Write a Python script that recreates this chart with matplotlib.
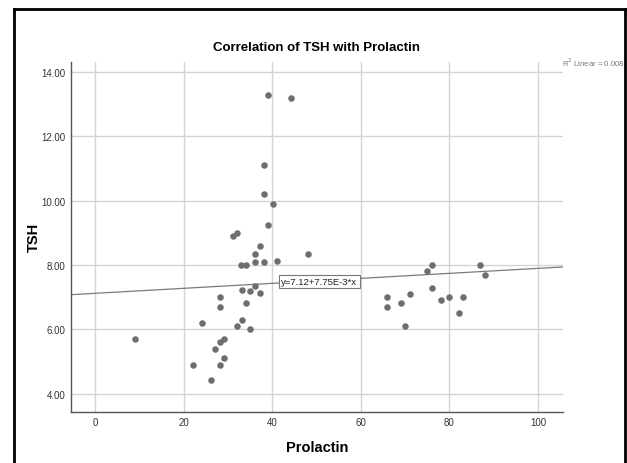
import numpy as np
import matplotlib.pyplot as plt
from matplotlib.lines import Line2D

# Prolactin (x) and TSH (y) values
prolactin = [39.0, 44.1, 38.1, 38.1, 40.1, 39.0, 31.1, 32.1, 37.1, 36.1,
             48.1, 33.0, 34.1, 36.1, 38.1, 41.1,
             33.1, 35.0, 36.1, 37.1, 28.1, 28.1, 34.1, 24.0, 33.1, 32.1,
             35.0, 29.1, 28.1, 27.1, 29.1, 22.0, 28.1, 26.1, 9.0,
             76.0, 75.0, 87.0, 88.0, 66.0, 66.0, 69.0, 71.1, 76.0, 78.1,
             80.0, 83.0, 82.1, 70.0]
tsh = [13.30, 13.20, 11.10, 10.20, 9.89, 9.23, 8.90, 9.00, 8.60, 8.34,
       8.33, 8.00, 8.00, 8.10, 8.10, 8.12,
       7.22, 7.20, 7.35, 7.12, 7.00, 6.70, 6.81, 6.21, 6.30, 6.11,
       6.00, 5.70, 5.61, 5.40, 5.10, 4.90, 4.90, 4.41, 5.70,
       8.00, 7.80, 8.00, 7.70, 7.00, 6.70, 6.81, 7.10, 7.30, 6.90,
       7.00, 7.00, 6.51, 6.10]

intercept = 7.12
slope = 7.75e-3
x_ticks = [0, 20, 40, 60, 80, 100]
y_ticks = [4, 6, 8, 10, 12, 14]

plt.rcParams['font.family'] = ['Liberation Sans', 'DejaVu Sans']

fig = plt.figure(figsize=(6.27, 4.64), dpi=100)
ax = fig.add_axes([0.1132, 0.1106, 0.7843, 0.7536])

ax.set_xlim(-5.5, 105.6)
ax.set_ylim(3.44, 14.31)
ax.set_xticks(x_ticks)
ax.set_yticks(y_ticks)
ax.set_yticklabels([f"{v:.2f}" for v in y_ticks])
ax.tick_params(length=0, labelsize=7, colors='#333333', pad=4)
ax.grid(True, color='#d4d4d4', linewidth=1)
ax.set_axisbelow(True)

for s in ['top', 'right']:
    ax.spines[s].set_visible(False)
for s in ['left', 'bottom']:
    ax.spines[s].set_color('#555555')
    ax.spines[s].set_linewidth(1)

ax.scatter(prolactin, tsh, s=22, color='#6e6e6e', zorder=3, linewidths=0)

xl = np.array(ax.get_xlim())
ax.plot(xl, intercept + slope * xl, color='#7a7a7a', linewidth=0.9, zorder=2)

ax.text(42, intercept + slope * 42 + 0.04, "y=7.12+7.75E-3*x", fontsize=6.8,
        va='center', ha='left', color='#222222', zorder=4,
        bbox=dict(boxstyle='square,pad=0.25', fc='white', ec='#777777', lw=0.8))

ax.set_title("Correlation of TSH with Prolactin", fontsize=9.5,
             fontweight='semibold', pad=9)
ax.set_xlabel("Prolactin", fontsize=10.5, fontweight='bold', labelpad=9)
ax.set_ylabel("TSH", fontsize=10.5, fontweight='bold', labelpad=0)

fig.text(562 / 627, 1 - 63 / 464, "R$^2$ Linear = 0.008", fontsize=5.6,
         color='#777777', va='center', ha='left')

# outer frame (open at the bottom)
fig.add_artist(Line2D([13.5 / 627, 13.5 / 627], [0, 1 - 10 / 464],
                      color='black', linewidth=2, transform=fig.transFigure))
fig.add_artist(Line2D([13.5 / 627, 624.5 / 627], [1 - 10 / 464, 1 - 10 / 464],
                      color='black', linewidth=2, transform=fig.transFigure))
fig.add_artist(Line2D([624.5 / 627, 624.5 / 627], [0, 1 - 10 / 464],
                      color='black', linewidth=2, transform=fig.transFigure))

fig.savefig("out.png", dpi=100)
